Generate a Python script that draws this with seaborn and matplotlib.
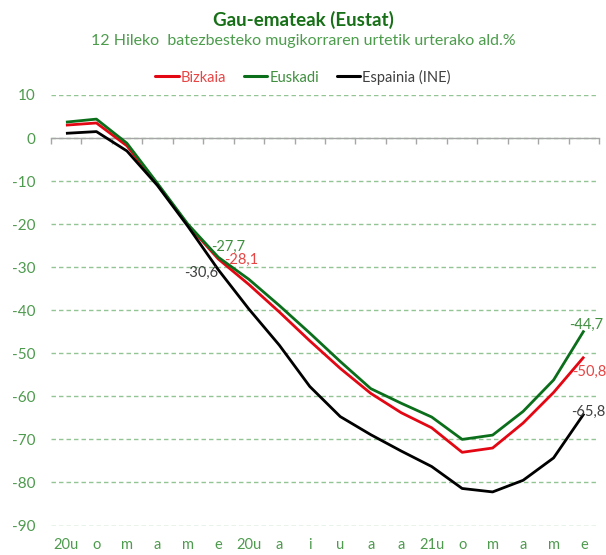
import matplotlib
matplotlib.use("Agg")
import matplotlib.pyplot as plt
from matplotlib.lines import Line2D
import seaborn as sns
import pandas as pd
import numpy as np

# ---------------- data ----------------
months = ["20u", "o", "m", "a", "m", "e", "20u", "a", "i", "u", "a", "a",
          "21u", "o", "m", "a", "m", "e"]
bizkaia = [3.0, 3.5, -1.8, -10.8, -20.2, -28.1, -34.0, -40.4, -47.1, -53.5,
           -59.3, -63.8, -67.3, -73.0, -72.0, -66.2, -59.1, -50.8]
euskadi = [3.7, 4.4, -1.2, -10.5, -20.0, -27.7, -32.8, -38.9, -45.3, -51.9,
           -58.2, -61.6, -64.8, -70.0, -69.0, -63.5, -56.2, -44.7]
espainia = [1.1, 1.5, -3.0, -11.0, -20.5, -30.6, -39.7, -48.1, -57.7, -64.7,
            -68.9, -72.7, -76.3, -81.4, -82.2, -79.5, -74.3, -64.0]
series_names = ["Bizkaia", "Euskadi", "Espainia (INE)"]
y_ticks = [10, 0, -10, -20, -30, -40, -50, -60, -70, -80, -90]

# annotation labels
mid_labels = ["-28,1", "-27,7", "-30,6"]
end_labels = ["-50,8", "-44,7", "-65,8"]

title = "Gau-emateak (Eustat)"
subtitle = "12 Hileko  batezbesteko mugikorraren urtetik urterako ald.%"

# ---------------- style ----------------
line_colors = {"Bizkaia": "#e30613", "Euskadi": "#0a6e1a", "Espainia (INE)": "#000000"}
text_colors = {"Bizkaia": "#e84545", "Euskadi": "#3f8f3f", "Espainia (INE)": "#404040"}
tick_green = "#4e9a4e"
grid_green = "#93c493"

sns.set_theme(style="white")
plt.rcParams["font.family"] = ["Lato", "DejaVu Sans"]

W, H = 606, 555
fig = plt.figure(figsize=(W / 100, H / 100), dpi=100)
left, right, top, bottom = 50.7, 599.3, 95.0, 525.5
ax = fig.add_axes([left / W, 1 - bottom / H, (right - left) / W, (bottom - top) / H])

n = len(months)
df = pd.DataFrame({
    "idx": list(range(n)) * 3,
    "value": bizkaia + euskadi + espainia,
    "serie": sum([[s] * n for s in series_names], []),
})
sns.lineplot(data=df, x="idx", y="value", hue="serie", palette=line_colors,
             linewidth=2.0, ax=ax, legend=False, sort=False, zorder=3)
for ln in ax.get_lines():
    ln.set_solid_joinstyle("round")
    ln.set_solid_capstyle("butt")

ax.set_xlim(-0.5, n - 0.5)
ax.set_ylim(-90, 10)

# y axis
ax.set_yticks(y_ticks)
ax.set_yticklabels([str(v) for v in y_ticks], color=tick_green, fontsize=11)
ax.tick_params(axis="y", length=0, pad=11)
ax.yaxis.grid(True, color=grid_green, linestyle=(0, (3.2, 2.2)), linewidth=1.0)
ax.set_axisbelow(True)

# category axis line at zero with boundary ticks
for s in ["top", "right", "left"]:
    ax.spines[s].set_visible(False)
ax.spines["bottom"].set_position(("data", 0))
ax.spines["bottom"].set_color("#a6a6a6")
ax.spines["bottom"].set_linewidth(1.0)
ax.spines["bottom"].set_zorder(2)
ax.set_xticks(np.arange(-0.5, n, 1.0))
ax.tick_params(axis="x", which="major", length=4, width=1.0, color="#a6a6a6",
               direction="out", labelbottom=False, bottom=True)
ax.set_xlabel("")
ax.set_ylabel("")

# month labels at the bottom
sec = ax.secondary_xaxis("bottom")
sec.set_xticks(range(n))
sec.set_xticklabels(months, color=tick_green, fontsize=10.5)
sec.tick_params(length=0, pad=9)
sec.spines["bottom"].set_visible(False)

# data labels
series_vals = {"Bizkaia": bizkaia, "Euskadi": euskadi, "Espainia (INE)": espainia}
mid_offsets = {"Bizkaia": (0.75, -0.2), "Euskadi": (0.32, 2.4), "Espainia (INE)": (-0.57, -0.7)}
for name, txt in zip(series_names, mid_labels):
    dx, dy = mid_offsets[name]
    ax.text(5 + dx, series_vals[name][5] + dy, txt, color=text_colors[name],
            fontsize=10.5, ha="center", va="center", zorder=5)
end_offsets = {"Bizkaia": (0.17, -3.5), "Euskadi": (0.07, 1.3), "Espainia (INE)": (0.13, 0.3)}
for name, txt in zip(series_names, end_labels):
    dx, dy = end_offsets[name]
    ax.text(n - 1 + dx, series_vals[name][-1] + dy, txt, color=text_colors[name],
            fontsize=10.5, ha="center", va="center", zorder=5)

# titles
fig.text(0.5, 1 - 20 / H, title, ha="center", va="center", fontsize=13.5,
         fontweight="bold", color="#177017")
fig.text(0.5, 1 - 41.5 / H, subtitle, ha="center", va="center", fontsize=11.5,
         color="#4c9c4c")

# legend
handles = [Line2D([0], [0], color=line_colors[s], lw=2.2) for s in series_names]
fig.legend(handles, series_names, loc="center", bbox_to_anchor=(0.5, 1 - 77 / H),
           ncol=3, frameon=False, fontsize=10.5, handlelength=1.6,
           handletextpad=0.15, columnspacing=1.2,
           labelcolor=[text_colors[s] for s in series_names])

fig.savefig("out.png", dpi=100)
